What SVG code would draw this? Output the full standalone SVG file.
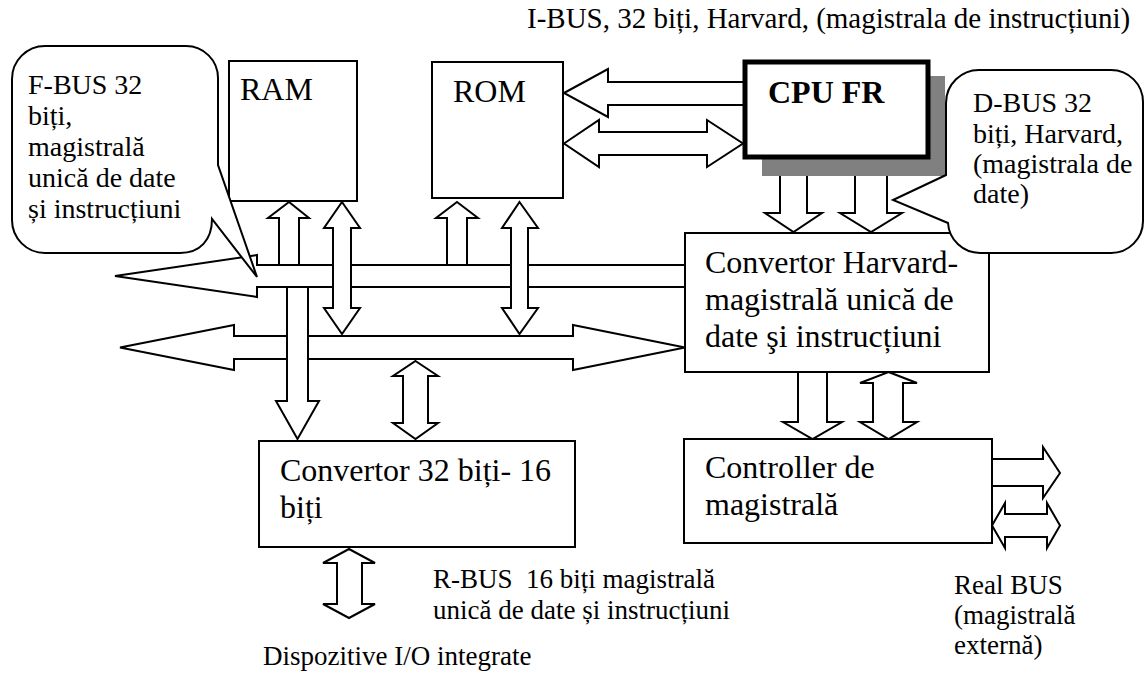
<svg xmlns="http://www.w3.org/2000/svg" width="1146" height="673" viewBox="0 0 1146 673">
<style>
.b{fill:#fff;stroke:#000;stroke-width:2}
.a{fill:#fff;stroke:#000;stroke-width:2;stroke-linejoin:miter}
.t{font-family:"Liberation Serif","Times New Roman",serif;fill:#000}
.big{font-size:32px}
.sm{font-size:28px}
.xs{font-size:27px}
</style>
<rect width="1146" height="673" fill="#fff"/>
<text class="t" font-size="29" x="527" y="28">I-BUS, 32 biți, Harvard, (magistrala de instrucțiuni)</text>

<g id="connectors">
<!-- buses -->
<polygon class="a" points="115,276 257,255 257,265 685,265 685,287 257,287 257,297"/>
<polygon class="a" points="120,347.5 234,325 234,336 573,336 573,325 685,347.5 573,370 573,359 234,359 234,370"/>
<!-- I-BUS arrows -->
<polygon class="a" points="564,93 608,69 608,82 744,82 744,105 608,105 608,117"/>
<polygon class="a" points="564,143.5 599,120 599,132 707,132 707,120 743,143.5 707,167 707,155 599,155 599,167"/>
<!-- RAM / ROM vertical -->
<polygon class="a" points="289,202 309,218 299,218 299,265 279,265 279,218 268,218"/>
<polygon class="a" points="457,202 478,218 467,218 467,265 447,265 447,218 436,218"/>
<polygon class="a" points="342,202 360,228 351,228 351,308 360,308 342,334 324,308 333,308 333,228 324,228"/>
<polygon class="a" points="519.5,202 538,228 528,228 528,308 538,308 519.5,334 502,308 511,308 511,228 502,228"/>
<!-- down to converter 32-16 -->
<polygon class="a" points="287,287 308,287 308,401 319,401 297.5,439 276,401 287,401"/>
<polygon class="a" points="415.5,361 438,376 428,376 428,423 438,423 415.5,439 393,423 403,423 403,376 393,376"/>
<!-- below converter 32-16 -->
<polygon class="a" points="349,549 375,563 362,563 362,604 375,604 349,618 323,604 337,604 337,563 323,563"/>
<!-- CPU to Harvard -->
<polygon class="a" points="780,157 807,157 807,213 822,213 793.5,232 765,213 780,213"/>
<polygon class="a" points="871,158 902,175 887,175 887,213 902,213 871,232 840,213 855,213 855,175 840,175"/>
<!-- Harvard to controller -->
<polygon class="a" points="798,372 827,372 827,422 842,422 812.5,439 783,422 798,422"/>
<polygon class="a" points="888.5,372 917,383 903,383 903,422 917,422 888.5,439 860,422 873,422 873,383 860,383"/>
<!-- controller right -->
<polygon class="a" points="992,459 1043,459 1043,447 1060,473 1043,498 1043,486 992,486"/>
<polygon class="a" points="992,525.5 1005,503 1005,514 1047,514 1047,503 1060,525.5 1047,548 1047,537 1005,537 1005,548"/>
</g>

<g id="ram">
<rect class="b" x="229" y="61" width="128" height="140"/>
<text class="t big" x="240" y="100">RAM</text>
</g>
<g id="rom">
<rect class="b" x="432" y="62" width="131" height="136"/>
<text class="t big" x="453" y="102">ROM</text>
</g>
<g id="cpu">
<rect x="762" y="76" width="183" height="100" fill="#808080"/>
<rect x="745" y="62" width="183" height="95" fill="#fff" stroke="#000" stroke-width="5"/>
<text class="t big" x="768" y="103" font-weight="bold">CPU FR</text>
</g>
<g id="harvard">
<rect class="b" x="685" y="233" width="304" height="139"/>
<text class="t big" x="705" y="273">Convertor Harvard-</text>
<text class="t big" x="705" y="310">magistrală unică de</text>
<text class="t big" x="705" y="347">date şi instrucțiuni</text>
</g>
<g id="conv16">
<rect class="b" x="259" y="441" width="316" height="106"/>
<text class="t big" x="280" y="481">Convertor 32 biți- 16</text>
<text class="t big" x="280" y="518">biți</text>
</g>
<g id="controller">
<rect class="b" x="684" y="439" width="308" height="104"/>
<text class="t big" x="705" y="478">Controller de</text>
<text class="t big" x="705" y="515">magistrală</text>
</g>
<g id="fbus">
<path class="b" d="M45,46 H186 A32,32 0 0 1 218,78 V165 L257,277 L212,219 C212,240 200,253 180,253 H45 A33,33 0 0 1 12,220 V79 A33,33 0 0 1 45,46 Z"/>
<text class="t sm" x="28" y="94">F-BUS 32</text>
<text class="t sm" x="28" y="125">biți,</text>
<text class="t sm" x="28" y="156">magistrală</text>
<text class="t sm" x="28" y="187">unică de date</text>
<text class="t sm" x="28" y="218">și instrucțiuni</text>
</g>
<g id="dbus">
<path class="b" d="M980,70 H1111 A32,32 0 0 1 1143,102 V221 A32,32 0 0 1 1111,253 H980 A32,32 0 0 1 948,223 L893,200 L946,175 V103 A33,33 0 0 1 980,70 Z"/>
<text class="t sm" x="973" y="112">D-BUS 32</text>
<text class="t sm" x="973" y="143">biți, Harvard,</text>
<text class="t sm" x="973" y="173">(magistrala de</text>
<text class="t sm" x="973" y="203">date)</text>
</g>
<g id="labels">
<text class="t xs" x="433" y="588" xml:space="preserve">R-BUS  16 biți magistrală</text>
<text class="t xs" x="433" y="619">unică de date și instrucțiuni</text>
<text class="t xs" x="263" y="665">Dispozitive I/O integrate</text>
<text class="t xs" x="954" y="594">Real BUS</text>
<text class="t xs" x="954" y="624">(magistrală</text>
<text class="t xs" x="954" y="654">externă)</text>
</g>
</svg>
